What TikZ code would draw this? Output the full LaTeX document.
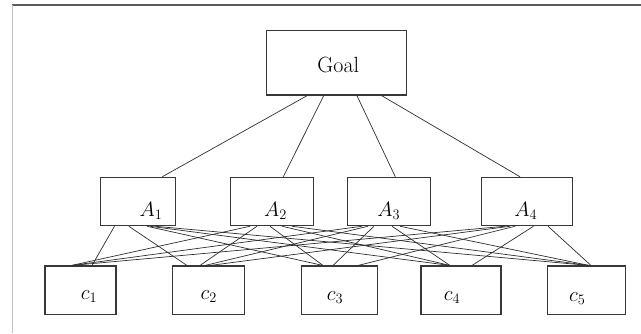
\documentclass[tikz,border=0pt]{standalone}
\begin{document}
\begin{tikzpicture}[x=1pt,y=-1pt,
  box/.style={draw=black!78, line width=1.1pt, inner sep=0pt, minimum height=48.4pt},
  lbl/.style={anchor=base, inner sep=0pt, font=\fontsize{22}{26}\selectfont},
  link/.style={draw=black!82, line width=0.7pt},
  frametop/.style={draw=black!65, line width=1.2pt},
  frameleft/.style={draw=black!25, line width=0.8pt}]
\useasboundingbox (0,0) rectangle (641,333);
% frame
\draw[frametop] (12,5) -- (641,5);
\draw[frameleft] (12,5) -- (12,333);
% boxes
\node[box, minimum width=140.2pt, minimum height=64.3pt] (G) at (336.7,62.8) {};
\node[box, minimum width=75pt] (A1) at (138.2,201.5) {};
\node[box, minimum width=82.6pt] (A2) at (272,201.5) {};
\node[box, minimum width=82.6pt] (A3) at (389,201.5) {};
\node[box, minimum width=91pt] (A4) at (527.2,201.5) {};
\node[box, minimum width=71pt] (c1) at (80.5,290.2) {};
\node[box, minimum width=72pt] (c2) at (208.3,290.2) {};
\node[box, minimum width=76pt] (c3) at (339.7,290.2) {};
\node[box, minimum width=80pt] (c4) at (461,290.2) {};
\node[box, minimum width=78pt] (c5) at (586.7,290.2) {};
% labels
\node[lbl] (tG) at (338.3,72) {Goal};
\node[lbl] (tA1) at (151,216) {$A_1$};
\node[lbl] (tA2) at (275.5,216) {$A_2$};
\node[lbl] (tA3) at (388.7,216) {$A_3$};
\node[lbl] (tA4) at (525.8,216) {$A_4$};
\node[lbl] (tc1) at (89,299.5) {$c_1$};
\node[lbl] (tc2) at (208.7,299) {$c_2$};
\node[lbl] (tc3) at (335,300) {$c_3$};
\node[lbl] (tc4) at (452,300) {$c_4$};
\node[lbl] (tc5) at (577.2,301) {$c_5$};
% goal to criteria
\draw[link] ([xshift=-29.3pt]G.south) -- ([xshift=24.1pt]A1.north);
\draw[link] ([xshift=-12.9pt]G.south) -- ([xshift=11.3pt]A2.north);
\draw[link] ([xshift=20.2pt]G.south) -- ([xshift=6.3pt]A3.north);
\draw[link] ([xshift=44.7pt]G.south) -- ([xshift=-7.2pt]A4.north);
% A1
\draw[link] ([xshift=-23.7pt]A1.south) -- ([xshift=11.5pt]c1.north);
\draw[link] ([xshift=-9.4pt]A1.south) -- ([xshift=-21.3pt]c2.north);
\draw[link] ([xshift=8.8pt]A1.south) -- ([xshift=-16.7pt]c3.north);
\draw[link] ([xshift=11.8pt]A1.south) -- ([xshift=-11pt]c4.north);
\draw[link] ([xshift=16.8pt]A1.south) -- ([xshift=2.3pt]c5.north);
% A2
\draw[link] ([xshift=-22pt]A2.south) -- ([xshift=-9pt]c1.north);
\draw[link] ([xshift=-15pt]A2.south) -- ([xshift=-8.3pt]c2.north);
\draw[link] ([xshift=-2pt]A2.south) -- ([xshift=-16.7pt]c3.north);
\draw[link] ([xshift=10pt]A2.south) -- ([xshift=-11pt]c4.north);
\draw[link] ([xshift=20pt]A2.south) -- ([xshift=2.3pt]c5.north);
% A3
\draw[link] ([xshift=-27pt]A3.south) -- ([xshift=-9pt]c1.north);
\draw[link] ([xshift=-21pt]A3.south) -- ([xshift=-3.3pt]c2.north);
\draw[link] ([xshift=-15pt]A3.south) -- ([xshift=-6.7pt]c3.north);
\draw[link] ([xshift=3pt]A3.south) -- ([xshift=-11pt]c4.north);
\draw[link] ([xshift=11pt]A3.south) -- ([xshift=2.3pt]c5.north);
% A4
\draw[link] ([xshift=-22.2pt]A4.south) -- ([xshift=-9pt]c1.north);
\draw[link] ([xshift=-17.2pt]A4.south) -- ([xshift=1.7pt]c2.north);
\draw[link] ([xshift=-12.2pt]A4.south) -- ([xshift=18.3pt]c3.north);
\draw[link] ([xshift=6.3pt]A4.south) -- ([xshift=11pt]c4.north);
\draw[link] ([xshift=20.8pt]A4.south) -- ([xshift=4.3pt]c5.north);
\end{tikzpicture}
\end{document}
